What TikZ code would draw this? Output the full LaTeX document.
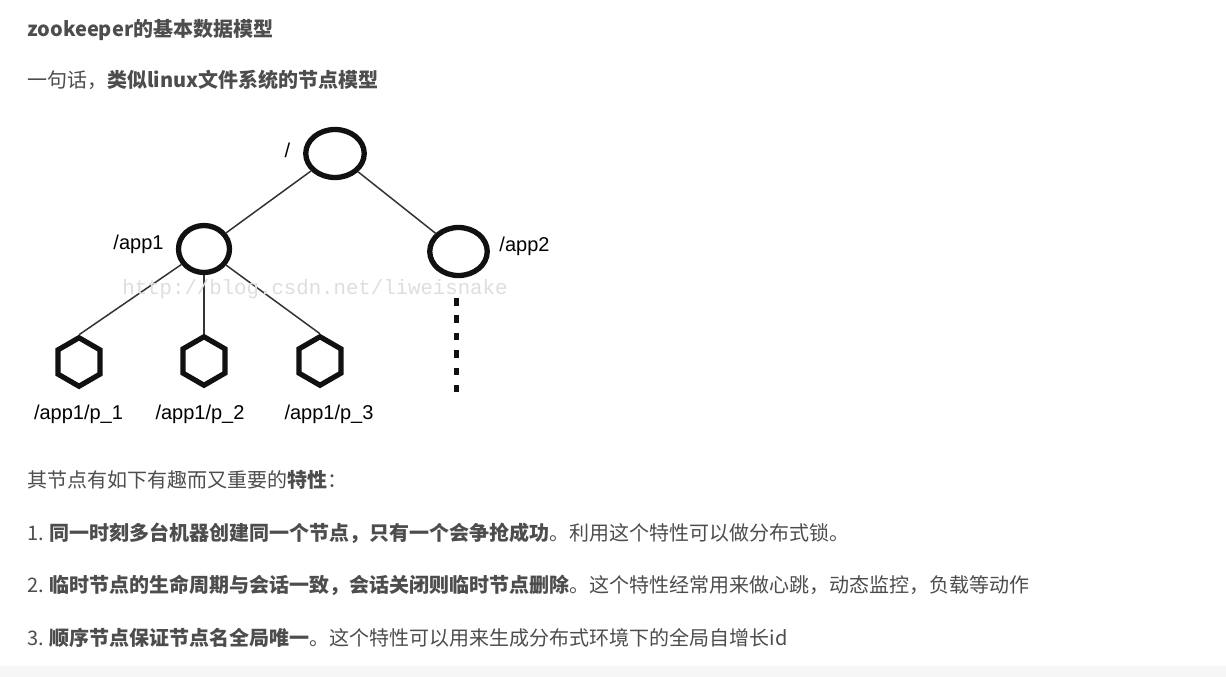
\documentclass[tikz,border=0pt]{standalone}
\usepackage{fontspec}
\setmainfont{Liberation Sans}
\newfontfamily\cjk{Noto Sans CJK SC}
\newfontfamily\wmfont{Liberation Mono}
\usetikzlibrary{shapes.geometric}
\definecolor{txt}{HTML}{4D4D4D}
\definecolor{ink}{HTML}{111111}
\definecolor{edge}{HTML}{333333}
\definecolor{wm}{HTML}{DEDEDE}
\definecolor{strip}{HTML}{F6F6F6}
\tikzset{
  para/.style={anchor=base west, inner sep=0pt, text=txt, font=\cjk\fontsize{20}{24}\selectfont},
  znode/.style={ellipse, draw=ink, line width=5.3pt, fill=white, inner sep=0pt},
  leaf/.style={regular polygon, regular polygon sides=6, regular polygon rotate=30, draw=ink, line width=5.2pt, fill=white, inner sep=0pt, minimum size=48.5pt},
  lbl/.style={anchor=base, inner sep=0pt, text=black, font=\fontsize{20}{24}\selectfont},
  link/.style={draw=edge, line width=1.5pt},
  more/.style={draw=ink, line width=5.5pt, dash pattern=on 7.5pt off 9.9pt}
}
\begin{document}
\begin{tikzpicture}[x=1pt,y=-1pt]
\useasboundingbox (0,0) rectangle (1226,677);
\fill[white] (0,0) rectangle (1226,677);
\fill[strip] (0,666) rectangle (1226,677);

% text
\node[para] (title) at (27,37) {\bfseries zookeeper的基本数据模型};
\node[para] (sub) at (27,88) {一句话，\textbf{类似linux文件系统的节点模型}};

% tree
\node[znode, minimum width=58.5pt, minimum height=48pt] (root) at (335,153.5) {};
\node[znode, minimum width=51pt, minimum height=47pt] (app1) at (204,249) {};
\node[znode, minimum width=57.5pt, minimum height=48pt] (app2) at (458.5,251.5) {};
\node[leaf] (p1) at (79,362) {};
\node[leaf] (p2) at (204,361) {};
\node[leaf] (p3) at (320,361) {};

\draw[link] (root) -- (app1);
\draw[link] (root) -- (app2);
\draw[link] (app1) -- (p1.north);
\draw[link] (app1) -- (p2.north);
\draw[link] (app1) -- (p3.north);

\coordinate (d1) at (456.5,298);
\coordinate (d2) at (456.5,392);
\draw[more] (d1) -- (d2);

\node[lbl] (lroot) at (287.5,157) {/};
\node[lbl] (lapp1) at (138.5,249) {/app1};
\node[lbl] (lapp2) at (524.5,251) {/app2};
\node[lbl] (lp1) at (78.5,419) {/app1/p\_1};
\node[lbl] (lp2) at (200,419) {/app1/p\_2};
\node[lbl] (lp3) at (329,419) {/app1/p\_3};

\node[inner sep=0pt, text=wm, font=\wmfont\fontsize{20.7}{24}\selectfont] (wmark) at (315,289) {http://blog.csdn.net/liweisnake};

% properties
\node[para] (intro) at (27,487.5) {其节点有如下有趣而又重要的\textbf{特性}：};
\node[para] (l1) at (27,540) {1. \textbf{同一时刻多台机器创建同一个节点，只有一个会争抢成功}。利用这个特性可以做分布式锁。};
\node[para] (l2) at (27,592.5) {2. \textbf{临时节点的生命周期与会话一致，会话关闭则临时节点删除}。这个特性经常用来做心跳，动态监控，负载等动作};
\node[para] (l3) at (27,645) {3. \textbf{顺序节点保证节点名全局唯一}。这个特性可以用来生成分布式环境下的全局自增长id};
\end{tikzpicture}
\end{document}
